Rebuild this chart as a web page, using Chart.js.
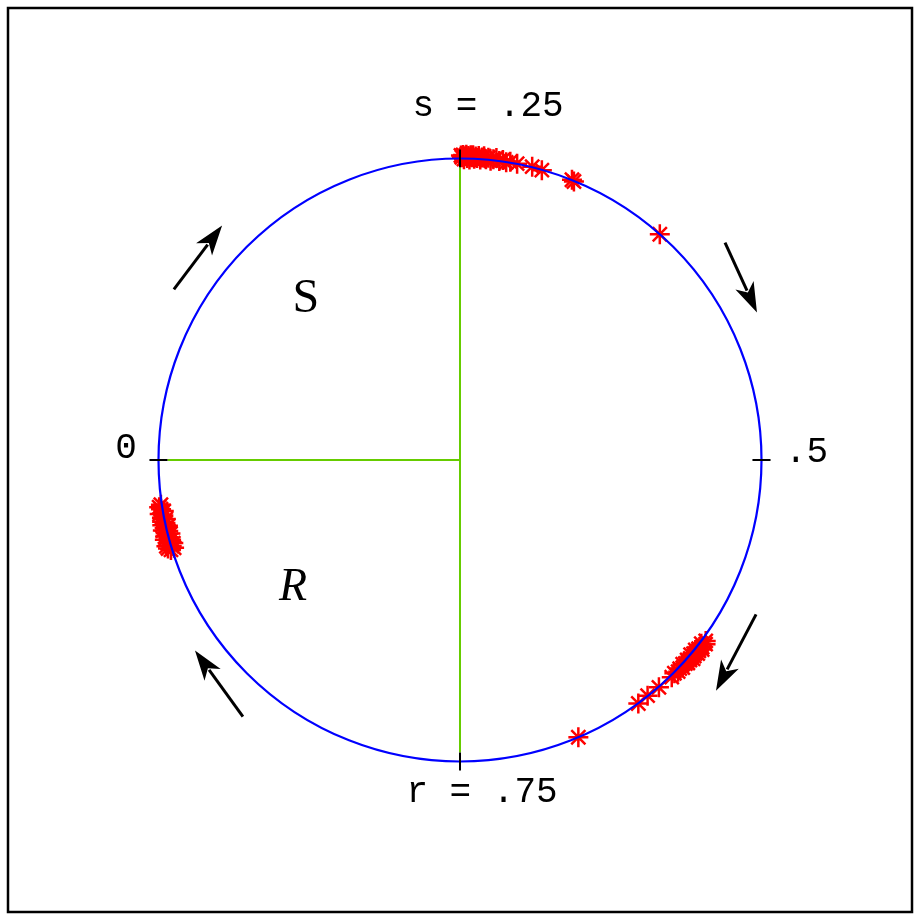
<!DOCTYPE html>
<html>
<head>
<meta charset="utf-8">
<title>Phase circle</title>
<script src="https://cdn.jsdelivr.net/npm/chart.js@4.4.1/dist/chart.umd.min.js"></script>
<style>
  html, body { margin: 0; padding: 0; background: #fff; }
  canvas { display: block; }
</style>
</head>
<body>
<canvas id="phaseChart" width="920" height="920"></canvas>
<script>
// phase values (fraction of the cycle, 0 at left, clockwise) and radius of each observed point
const topPhases = [
    0.2505, 0.2510, 0.2516, 0.2521, 0.2527, 0.2533, 0.2538, 0.2544, 0.2550, 0.2556,
    0.2562, 0.2568, 0.2575, 0.2582, 0.2590, 0.2598, 0.2607, 0.2616, 0.2626, 0.2637,
    0.2649, 0.2662, 0.2676, 0.2691, 0.2708, 0.2726, 0.2745, 0.2766, 0.2803, 0.2884,
    0.2938, 0.3105, 0.3118, 0.3653
];
const topRadii = [
    1.010, 1.004, 1.012, 0.998, 1.008, 1.013, 1.002, 1.009, 0.997, 1.011,
    1.005, 1.012, 1.000, 1.008, 1.003, 1.010, 0.999, 1.006, 1.011, 1.001,
    1.007, 0.998, 1.004, 1.009, 1.000, 1.005, 0.999, 1.003, 1.001, 1.002,
    0.999, 1.001, 0.998, 1.000
];
const lowerPhases = [
    0.6010, 0.6024, 0.6036, 0.6047, 0.6057, 0.6065, 0.6073, 0.6081, 0.6088, 0.6095,
    0.6102, 0.6109, 0.6116, 0.6124, 0.6132, 0.6140, 0.6149, 0.6158, 0.6169, 0.6181,
    0.6194, 0.6209, 0.6226, 0.6246, 0.6270, 0.6356, 0.6430, 0.6494, 0.6858
];
const lowerRadii = [
    1.012, 1.018, 1.006, 1.015, 1.020, 1.009, 1.014, 1.003, 1.017, 1.010,
    1.006, 1.013, 1.001, 1.016, 1.008, 1.011, 1.004, 1.012, 1.007, 1.002,
    1.010, 1.005, 1.008, 1.003, 1.006, 1.002, 0.999, 1.001, 1.000
];
const leftPhases = [
    0.9520, 0.9526, 0.9532, 0.9538, 0.9545, 0.9551, 0.9558, 0.9565, 0.9572, 0.9580,
    0.9588, 0.9596, 0.9604, 0.9612, 0.9620, 0.9629, 0.9638, 0.9647, 0.9656, 0.9665,
    0.9675, 0.9685, 0.9695, 0.9706, 0.9717, 0.9728, 0.9740, 0.9752, 0.9764
];
const leftRadii = [
    1.004, 0.992, 1.012, 0.998, 1.015, 0.990, 1.008, 1.002, 0.994, 1.014,
    1.000, 1.010, 0.991, 1.006, 0.996, 1.013, 1.003, 0.993, 1.011, 0.999,
    1.009, 0.995, 1.007, 1.001, 1.012, 0.997, 1.005, 1.010, 1.003
];

// positions on the unit circle: phase 0 on the left, .25 on top, .5 right, .75 bottom
function toXY(phases, radii) {
    return phases.map((p, i) => {
        const a = Math.PI - 2 * Math.PI * p;
        return { x: radii[i] * Math.cos(a), y: radii[i] * Math.sin(a) };
    });
}
const points = [].concat(
    toXY(topPhases, topRadii),
    toXY(lowerPhases, lowerRadii),
    toXY(leftPhases, leftRadii)
);

// decorations, in data units
const labels = [
    { text: 's = .25', x: 0.093, y: 1.142, font: '36px "Liberation Mono", monospace', align: 'center' },
    { text: 'r = .75', x: 0.073, y: -1.133, font: '36px "Liberation Mono", monospace', align: 'center' },
    { text: '0', x: -1.108, y: 0.008, font: '36px "Liberation Mono", monospace', align: 'center' },
    { text: '.5', x: 1.078, y: -0.008, font: '36px "Liberation Mono", monospace', align: 'left' },
    { text: 'S', x: -0.511, y: 0.492, font: '48px "Liberation Serif", serif', align: 'center' },
    { text: 'R', x: -0.554, y: -0.463, font: 'italic 46px "Liberation Serif", serif', align: 'center' }
];
const arrows = [
    [-0.949, 0.566, -0.789, 0.778],
    [0.879, 0.721, 0.985, 0.489],
    [0.982, -0.512, 0.849, -0.765],
    [-0.720, -0.851, -0.879, -0.632]
];

const decorPlugin = {
    id: 'decor',
    beforeDatasetsDraw(chart) {
        const ctx = chart.ctx;
        const sx = chart.scales.x, sy = chart.scales.y;
        const px = v => sx.getPixelForValue(v);
        const py = v => sy.getPixelForValue(v);
        ctx.save();
        // frame
        ctx.strokeStyle = '#000';
        ctx.lineWidth = 2.5;
        ctx.strokeRect(8, 8, 904, 904);
        // green axes from the centre
        ctx.strokeStyle = '#66cc00';
        ctx.lineWidth = 2;
        ctx.beginPath();
        ctx.moveTo(px(-0.97), py(0));
        ctx.lineTo(px(0), py(0));
        ctx.moveTo(px(0), py(0.97));
        ctx.lineTo(px(0), py(-0.97));
        ctx.stroke();
        ctx.restore();
    },
    afterDatasetsDraw(chart) {
        const ctx = chart.ctx;
        const sx = chart.scales.x, sy = chart.scales.y;
        const px = v => sx.getPixelForValue(v);
        const py = v => sy.getPixelForValue(v);
        const cx = px(0), cy = py(0);
        const r = px(1) - cx;
        ctx.save();
        // unit circle
        ctx.strokeStyle = '#0000ff';
        ctx.lineWidth = 2.2;
        ctx.beginPath();
        ctx.arc(cx, cy, r, 0, 2 * Math.PI);
        ctx.stroke();
        // quarter ticks
        ctx.strokeStyle = '#000';
        ctx.lineWidth = 2;
        ctx.beginPath();
        ctx.moveTo(px(-1.03), cy); ctx.lineTo(px(-0.97), cy);
        ctx.moveTo(px(0.97), cy); ctx.lineTo(px(1.03), cy);
        ctx.moveTo(cx, py(1.03)); ctx.lineTo(cx, py(0.97));
        ctx.moveTo(cx, py(-1.03)); ctx.lineTo(cx, py(-0.97));
        ctx.stroke();
        // arrows showing direction
        ctx.fillStyle = '#000';
        arrows.forEach(([x0, y0, x1, y1]) => {
            const ax = px(x0), ay = py(y0), bx = px(x1), by = py(y1);
            const ang = Math.atan2(by - ay, bx - ax);
            const len = 30, half = 10;
            const baseX = bx - len * Math.cos(ang), baseY = by - len * Math.sin(ang);
            ctx.lineWidth = 3;
            ctx.beginPath();
            ctx.moveTo(ax, ay);
            ctx.lineTo(baseX + 6 * Math.cos(ang), baseY + 6 * Math.sin(ang));
            ctx.stroke();
            ctx.beginPath();
            ctx.moveTo(bx, by);
            ctx.lineTo(baseX - half * Math.sin(ang), baseY + half * Math.cos(ang));
            ctx.lineTo(baseX + 8 * Math.cos(ang), baseY + 8 * Math.sin(ang));
            ctx.lineTo(baseX + half * Math.sin(ang), baseY - half * Math.cos(ang));
            ctx.closePath();
            ctx.fill();
        });
        // text
        ctx.textBaseline = 'alphabetic';
        labels.forEach(l => {
            ctx.font = l.font;
            ctx.textAlign = l.align;
            ctx.fillText(l.text, px(l.x), py(l.y));
        });
        ctx.restore();
    }
};

const lim = 920 / 301.5 / 2;
new Chart(document.getElementById('phaseChart').getContext('2d'), {
    type: 'scatter',
    data: {
        datasets: [{
            data: points,
            pointStyle: 'star',
            pointRadius: 10,
            borderColor: '#ff0000',
            backgroundColor: '#ff0000',
            borderWidth: 2.5
        }]
    },
    options: {
        responsive: false,
        animation: false,
        devicePixelRatio: 1,
        layout: { padding: 0, autoPadding: false },
        scales: {
            x: { type: 'linear', display: false, min: -lim, max: lim },
            y: { type: 'linear', display: false, min: -lim, max: lim }
        },
        plugins: {
            legend: { display: false },
            tooltip: { enabled: false }
        }
    },
    plugins: [decorPlugin]
});
</script>
</body>
</html>
